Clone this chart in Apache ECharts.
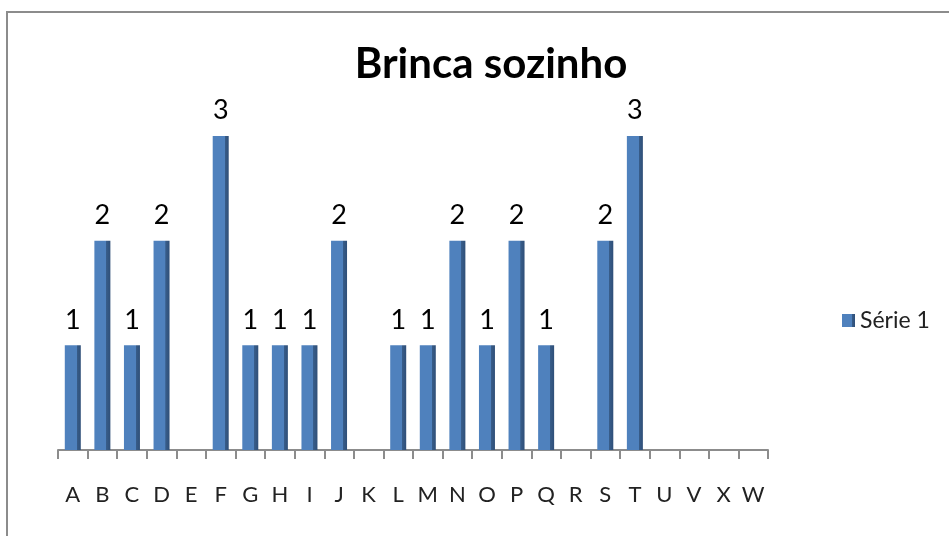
<!DOCTYPE html>
<html>
<head>
<meta charset="utf-8">
<script src="https://cdn.jsdelivr.net/npm/echarts@6/dist/echarts.min.js"></script>
<style>
html,body{margin:0;padding:0;background:#fff;}
#chart{width:949px;height:536px;}
</style>
</head>
<body>
<div id="chart"></div>
<script>
var categories=["A","B","C","D","E","F","G","H","I","J","K","L","M","N","O","P","Q","R","S","T","U","V","X","W"]
var serie1=[1,2,1,2,0,3,1,1,1,2,0,1,1,2,1,2,1,0,2,3,0,0,0,0]
var seriesName="Série 1"
var titleText="Brinca sozinho"

var mychart=echarts.init(document.getElementById('chart'));
var option={
	backgroundColor:'#fff',
	animation:false,
	title:{
		text:titleText,
		left:486,
		top:38,
		textAlign:'center',
		textStyle:{fontFamily:'Lato',fontWeight:'bold',fontSize:42,color:'#000'}
	},
	legend:{
		data:[seriesName],
		orient:'vertical',
		left:842,
		top:309,
		padding:0,
		itemWidth:13,
		itemHeight:13,
		itemGap:6,
		icon:'rect',
		textStyle:{fontFamily:'Lato',fontSize:23,color:'#222'}
	},
	//外框
	graphic:[{
		type:'rect',
		shape:{x:7,y:12,width:960,height:560},
		style:{fill:'none',stroke:'#8c8c8c',lineWidth:2},
		silent:true
	}],
	grid:{left:58,right:181,top:136,bottom:86},
	xAxis:{
		type:'category',
		data:categories,
		boundaryGap:true,
		axisLine:{lineStyle:{color:'#8c8c8c',width:2}},
		axisTick:{show:true,length:9,alignWithLabel:false,lineStyle:{color:'#8c8c8c',width:2}},
		axisLabel:{margin:34,fontFamily:'Lato',fontSize:22,color:'#222',interval:0}
	},
	yAxis:{
		type:'value',
		min:0,
		max:3,
		interval:1,
		show:false,
		splitLine:{show:false}
	},
	series:[{
		name:seriesName,
		type:'bar',
		data:serie1,
		barWidth:16,
		itemStyle:{
			color:new echarts.graphic.LinearGradient(0,0,1,0,[
				{offset:0,color:'#4f81bd'},
				{offset:0.74,color:'#4f81bd'},
				{offset:0.75,color:'#385d8a'},
				{offset:1,color:'#2f4f78'}
			])
		},
		label:{
			show:true,
			position:'top',
			distance:12,
			fontFamily:'Lato',
			fontSize:27,
			color:'#000',
			formatter:function(p){return p.value>0?p.value:''}
		}
	}]
};
mychart.setOption(option);
</script>
</body>
</html>
